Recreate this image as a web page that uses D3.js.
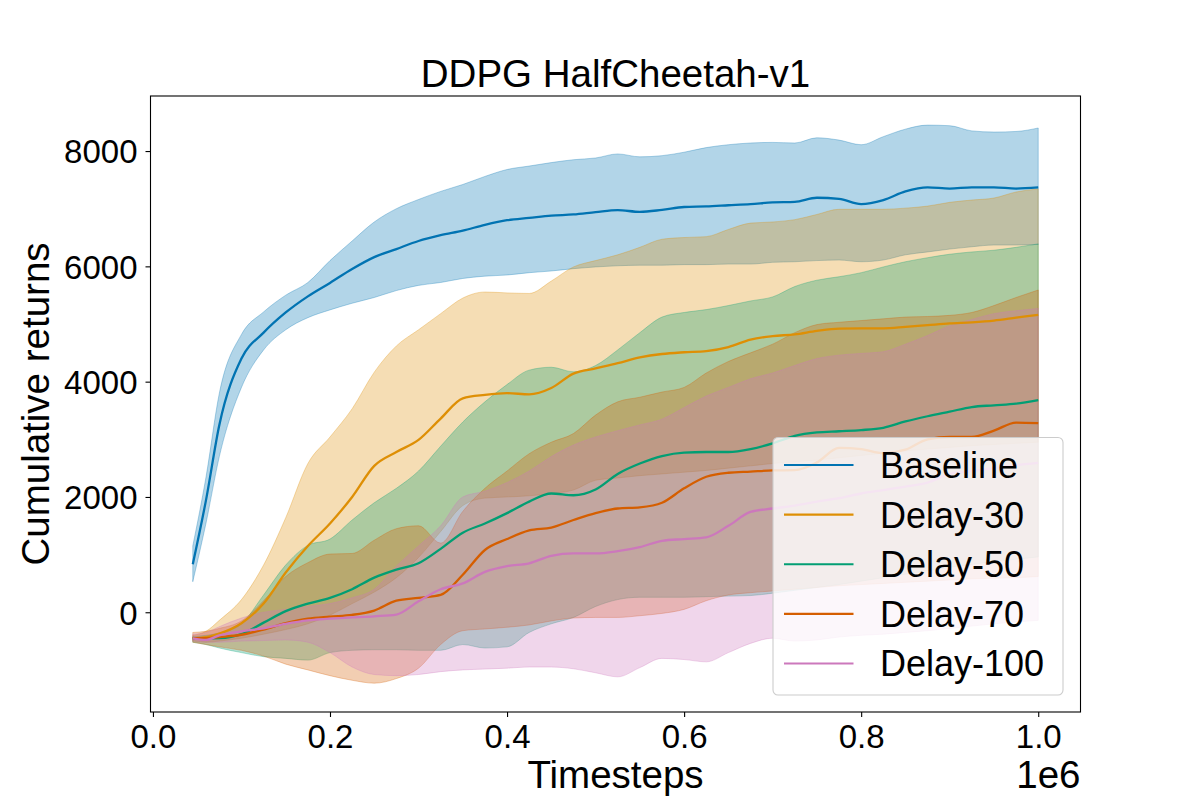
<!DOCTYPE html>
<html><head><meta charset="utf-8">
<script src="https://cdn.jsdelivr.net/npm/d3@7"></script>
<style>
body{margin:0;background:#fff}
text{font-family:"Liberation Sans",Arial,Helvetica,sans-serif;fill:#000}
</style>
</head><body>
<svg id="chart" width="1200" height="800"></svg>
<script>
// ---- data (timesteps grid shared by all series) ----
const steps = [45000,60000,75000,100000,125000,150000,175000,200000,225000,250000,
  275000,300000,325000,350000,375000,400000,425000,450000,475000,500000,
  525000,550000,575000,600000,625000,650000,675000,700000,725000,750000,
  775000,800000,825000,850000,875000,900000,925000,950000,975000,1000000];

const seriesNames  = ["Baseline","Delay-30","Delay-50","Delay-70","Delay-100"];
const seriesColors = ["#0173b2","#de8f05","#029e73","#d55e00","#cc78bc"];

const baselineMean = [833,1950,3250,4400,4850,5200,5480,5713,5954,6160,6300,6440,6540,6620,6720,6800,6840,6880,6900,6940,6975,6945,6980,7030,7040,7060,7080,7110,7120,7190,7170,7080,7150,7300,7370,7350,7370,7370,7350,7370];
const baselineHigh = [1150,2350,3800,4820,5210,5500,5720,6100,6440,6770,7000,7160,7300,7420,7560,7680,7740,7800,7850,7880,7950,7900,7920,7980,8060,8110,8140,8150,8140,8230,8190,8110,8250,8380,8450,8440,8350,8330,8340,8400];
const baselineLow  = [530,1550,2700,3900,4550,4900,5110,5245,5360,5460,5580,5670,5720,5790,5830,5850,5890,5920,5960,5990,6010,6020,6020,6030,6030,6040,6040,6070,6080,6100,6110,6080,6110,6200,6250,6300,6340,6370,6370,6380];

const delay30Mean = [-450,-430,-370,-190,150,690,1150,1540,2000,2540,2780,2990,3360,3710,3770,3800,3780,3890,4140,4230,4320,4420,4480,4510,4530,4600,4730,4790,4820,4880,4920,4925,4925,4950,4980,5010,5030,5060,5110,5160];
const delay30High = [-400,-330,-140,220,820,1640,2580,3040,3530,4165,4620,4900,5180,5450,5555,5540,5530,5745,5990,6100,6200,6330,6470,6500,6515,6640,6750,6770,6810,6900,6990,6990,6990,7010,7045,7110,7150,7185,7290,7344];
const delay30Low  = [-500,-520,-500,-450,-380,-300,-200,-50,150,350,600,950,1400,1850,1980,2000,2020,2060,2120,2290,2330,2370,2400,2430,2460,2500,2540,2580,2610,2640,2680,2720,2760,2800,2830,2860,2890,2910,2930,2950];

const delay50Mean = [-451,-455,-450,-380,-180,20,150,250,400,600,740,850,1100,1380,1540,1720,1920,2060,2030,2130,2400,2580,2710,2770,2780,2780,2830,2930,3060,3120,3140,3160,3200,3310,3400,3480,3560,3590,3620,3680];
const delay50High = [-420,-400,-360,-200,300,820,1160,1270,1600,1900,2150,2450,2880,3300,3650,3950,4200,4250,4170,4280,4550,4850,5120,5200,5250,5320,5400,5470,5650,5760,5820,5890,5990,6080,6150,6210,6250,6280,6330,6390];
const delay50Low  = [-520,-560,-620,-700,-770,-800,-830,-700,-660,-650,-650,-660,-660,-560,-620,-600,-350,-200,-90,100,220,260,260,260,270,280,290,330,380,430,480,540,600,660,720,780,830,880,920,960];

const delay70Mean = [-451,-450,-430,-390,-300,-190,-110,-75,-45,30,200,250,300,650,1080,1270,1420,1470,1600,1720,1800,1820,1900,2150,2350,2420,2440,2460,2465,2600,2850,2830,2760,2820,3000,3040,3040,3150,3290,3280];
const delay70High = [-350,-330,-280,-150,200,620,860,1010,1020,1250,1450,1500,1200,1750,2150,2450,2750,2950,3100,3420,3650,3730,3820,3900,4150,4350,4500,4650,4850,4990,5030,5060,5090,5120,5130,5150,5200,5320,5460,5590];
const delay70Low  = [-520,-560,-600,-660,-760,-900,-1000,-1100,-1180,-1230,-1150,-970,-560,-320,-290,-260,-220,-150,-100,-90,-90,-60,-20,50,200,300,340,370,400,430,460,480,500,520,540,560,580,590,600,620];

const delay100Mean = [-451,-480,-400,-330,-280,-200,-140,-110,-90,-70,-40,190,400,500,700,800,850,980,1020,1020,1060,1130,1240,1270,1300,1500,1740,1800,1850,1920,1980,2060,2120,2180,2250,2400,2450,2500,2550,2590];
const delay100High = [-380,-350,-250,-100,0,50,100,150,250,400,800,1150,1500,2000,2100,2250,2450,2700,2900,3040,3150,3250,3350,3550,3750,3900,4050,4150,4280,4400,4460,4490,4520,4650,4800,4970,5080,5180,5230,5270];
const delay100Low  = [-500,-520,-520,-500,-490,-480,-520,-700,-950,-1080,-1100,-1080,-1030,-1000,-985,-970,-950,-950,-980,-1050,-1120,-960,-800,-820,-860,-700,-540,-450,-500,-480,-430,-400,-380,-350,-320,-280,-240,-200,-170,-140];

const xTicks = [0,200000,400000,600000,800000,1000000];
const xTickLabels = ["0.0","0.2","0.4","0.6","0.8","1.0"];
const yTicks = [0,2000,4000,6000,8000];

const titleText = "DDPG HalfCheetah-v1";
const xLabel = "Timesteps";
const yLabel = "Cumulative returns";
const offsetText = "1e6";

// ---- build ----
const means = [baselineMean, delay30Mean, delay50Mean, delay70Mean, delay100Mean];
const highs = [baselineHigh, delay30High, delay50High, delay70High, delay100High];
const lows  = [baselineLow, delay30Low, delay50Low, delay70Low, delay100Low];
const series = seriesNames.map((name,i)=>({
  name, color: seriesColors[i],
  pts: steps.map((s,j)=>({x:s, m:means[i][j], lo:lows[i][j], hi:highs[i][j]}))
}));

const svg = d3.select("#chart");
const L = 150.5, R = 1080.5, T = 96, B = 712;
const x = d3.scaleLinear().domain([-2750, 1047750]).range([L, R]);
const y = d3.scaleLinear().domain([-1730, 8955]).range([B, T]);

svg.append("defs").append("clipPath").attr("id","plotclip")
  .append("rect").attr("x",L).attr("y",T).attr("width",R-L).attr("height",B-T);

const plot = svg.append("g").attr("clip-path","url(#plotclip)");

const area = d3.area().curve(d3.curveMonotoneX).x(d=>x(d.x)).y0(d=>y(d.lo)).y1(d=>y(d.hi));
const line = d3.line().curve(d3.curveMonotoneX).x(d=>x(d.x)).y(d=>y(d.m));

series.forEach(s=>{
  plot.append("path").datum(s.pts).attr("d",area)
    .attr("fill",s.color).attr("fill-opacity",0.3)
    .attr("stroke",s.color).attr("stroke-opacity",0.3).attr("stroke-width",1);
});
series.forEach(s=>{
  plot.append("path").datum(s.pts).attr("d",line)
    .attr("fill","none").attr("stroke",s.color).attr("stroke-width",2.3)
    .attr("stroke-linejoin","round");
});

// axes
const xAxis = d3.axisBottom(x).tickValues(xTicks).tickFormat((d,i)=>xTickLabels[i]).tickSize(5).tickPadding(6);
const yAxis = d3.axisLeft(y).tickValues(yTicks).tickFormat(d3.format("d")).tickSize(5).tickPadding(8);

const gx = svg.append("g").attr("transform",`translate(0,${B})`).call(xAxis);
const gy = svg.append("g").attr("transform",`translate(${L},0)`).call(yAxis);
[gx,gy].forEach(g=>{
  g.select(".domain").remove();
  g.selectAll(".tick line").attr("stroke","#000").attr("stroke-width",1.1);
  g.selectAll(".tick text").attr("font-family","Liberation Sans, Arial, sans-serif")
    .attr("font-size",33).attr("fill","#000");
});
gx.selectAll(".tick text").attr("dy",0).attr("y",36);
gy.selectAll(".tick text").attr("dy","0.36em");

// frame
svg.append("rect").attr("x",L).attr("y",T).attr("width",R-L).attr("height",B-T)
  .attr("fill","none").attr("stroke","#000").attr("stroke-width",1.1);

// labels
svg.append("text").attr("x",(L+R)/2).attr("y",87).attr("text-anchor","middle")
  .attr("font-size",38.5).text(titleText);
svg.append("text").attr("x",(L+R)/2).attr("y",788).attr("text-anchor","middle")
  .attr("font-size",38.5).text(xLabel);
svg.append("text").attr("transform",`translate(49,${(T+B)/2}) rotate(-90)`)
  .attr("text-anchor","middle").attr("font-size",38.5).text(yLabel);
svg.append("text").attr("x",R).attr("y",788).attr("text-anchor","end")
  .attr("font-size",38.5).text(offsetText);

// legend
const lg = svg.append("g");
lg.append("rect").attr("x",773).attr("y",437.5).attr("width",290).attr("height",257.5)
  .attr("rx",5).attr("fill","#fff").attr("fill-opacity",0.8)
  .attr("stroke","#cccccc").attr("stroke-width",1.1);
const rowY = d3.scaleLinear().domain([0,4]).range([465,663.5]);
series.forEach((s,i)=>{
  const yy = rowY(i);
  lg.append("line").attr("x1",784).attr("x2",853.5).attr("y1",yy).attr("y2",yy)
    .attr("stroke",s.color).attr("stroke-width",2.2);
  lg.append("text").attr("x",880).attr("y",yy).attr("dy","0.36em")
    .attr("font-size",36).text(s.name);
});
</script>
</body></html>
